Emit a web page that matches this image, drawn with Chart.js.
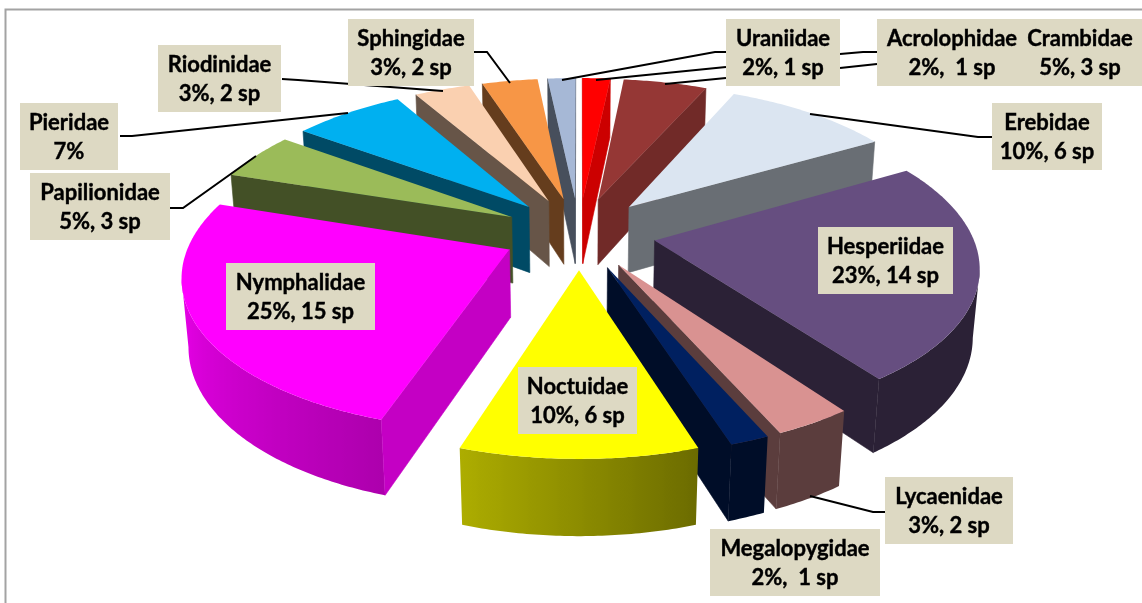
<!DOCTYPE html>
<html>
<head>
<meta charset="utf-8">
<title>Butterfly and moth families</title>
<script src="https://cdn.jsdelivr.net/npm/chart.js@4"></script>
<style>
    html, body { margin: 0; padding: 0; background: #fff; }
    canvas { display: block; }
</style>
</head>
<body>
<canvas id="pieChart" width="1142" height="603"></canvas>
<script>
// Chart data, clockwise from 12 o'clock
const families = ['Uraniidae', 'Crambidae', 'Erebidae', 'Hesperiidae', 'Lycaenidae', 'Megalopygidae',
    'Noctuidae', 'Nymphalidae', 'Papilionidae', 'Pieridae', 'Riodinidae', 'Sphingidae', 'Acrolophidae'];
const species = [1, 3, 6, 14, 2, 1, 6, 15, 3, 4, 2, 2, 1];
const shares = ['2%, 1 sp', '5%, 3 sp', '10%, 6 sp', '23%, 14 sp', '3%, 2 sp', '2%,  1 sp',
    '10%, 6 sp', '25%, 15 sp', '5%, 3 sp', '7%', '3%, 2 sp', '3%, 2 sp', '2%,  1 sp'];

// Slice styling: top face colour, and how dark the straight walls are
const topColors = ['#FF0000', '#953735', '#DBE5F1', '#664E80', '#D99291', '#002060',
    '#FFFF00', '#FF00FF', '#9BBB59', '#00B0F0', '#FAD0B0', '#F79646', '#A6B8D6'];
const wallShades = [0.8, 0.76, 0.48, 0.42, 0.42, 0.42, 0.7, 0.77, 0.43, 0.42, 0.41, 0.41, 0.43];

// Label boxes [left, top, right, bottom], same order as families
const labelBoxes = [
    [726, 19, 840, 86], [1018, 19, 1142, 86], [992, 103, 1102, 170], [818, 227, 953, 294],
    [885, 477, 1013, 544], [710, 529, 880, 596], [518, 367, 637, 434], [226, 263, 375, 330],
    [30, 173, 170, 240], [20, 103, 118, 170], [158, 45, 281, 112], [348, 19, 474, 86], [877, 19, 1027, 86]
];

// Leader lines from the boxes to the slices
const leaderLines = [
    [[474, 52], [487, 52], [510, 83]],
    [[282, 79], [298, 80], [443, 91]],
    [[120, 136], [132, 136], [348, 113]],
    [[170, 208], [183, 208], [256, 156]],
    [[726, 52], [715, 52], [562, 80]],
    [[726, 67], [596, 80]],
    [[726, 78], [665, 84]],
    [[877, 52], [863, 52], [840, 54]],
    [[877, 64], [840, 68]],
    [[992, 137], [978, 137], [810, 114]],
    [[885, 512], [873, 512], [810, 496]]
];

// Perspective used to tilt the pie
const view = { cx: 579, cy: 233, sx: 317, sy: 148, depth: 68, persp: 0.15, sink: 0.017, explode: 0.242 };

function project(u, v, z) {
    const w = 1 - view.persp * v + view.sink * z;
    return [view.cx + view.sx * u / w, view.cy + (view.sy * v + view.depth * z) / w];
}

function shadeColor(hex, f) {
    const n = parseInt(hex.slice(1), 16);
    const r = Math.round(((n >> 16) & 255) * f);
    const g = Math.round(((n >> 8) & 255) * f);
    const b = Math.round((n & 255) * f);
    return 'rgb(' + r + ',' + g + ',' + b + ')';
}

function fillPoly(ctx, pts, color, edge) {
    ctx.beginPath();
    pts.forEach((p, i) => i ? ctx.lineTo(p[0], p[1]) : ctx.moveTo(p[0], p[1]));
    ctx.closePath();
    ctx.fillStyle = color;
    ctx.fill();
    if (edge) {
        ctx.strokeStyle = color;
        ctx.lineWidth = 0.6;
        ctx.stroke();
    }
}

function signedArea(pts) {
    let a = 0;
    pts.forEach((p, i) => {
        const q = pts[(i + 1) % pts.length];
        a += p[0] * q[1] - q[0] * p[1];
    });
    return a;
}

// Outer wall gets lighter from the front right round to the left
function outerShade(theta) {
    const deg = theta * 180 / Math.PI;
    if (deg < 198) return Math.max(0.42, 0.42 + (deg - 162) * 0.0072);
    return Math.min(0.93, 0.68 + (deg - 198) * 0.004);
}

function drawOuterWall(ctx, at, a0, a1, steps, color) {
    const ts = [];
    for (let s = 0; s <= steps; s++) {
        const t = a0 + (a1 - a0) * s / steps;
        if (Math.cos(t) <= -0.18) ts.push(t); // with this perspective the left and right extremes are here
    }
    if (ts.length < 2) return;

    const topEdge = ts.map(t => at(t, 1, 0));
    const bottomEdge = ts.map(t => at(t, 1, 1)).reverse();
    const xs = topEdge.map(p => p[0]);
    const xMin = Math.min(...xs);
    const xMax = Math.max(...xs);
    const gradient = ctx.createLinearGradient(xMin, 0, xMax, 0);
    ts.forEach((t, k) => {
        gradient.addColorStop((xs[k] - xMin) / (xMax - xMin), shadeColor(color, outerShade(t)));
    });
    fillPoly(ctx, topEdge.concat(bottomEdge), gradient);
}

function drawSlice(ctx, arc, i) {
    const a0 = arc.startAngle + Math.PI / 2;
    const a1 = arc.endAngle + Math.PI / 2;
    const mid = (a0 + a1) / 2;
    const eu = view.explode * Math.sin(mid);
    const ev = -view.explode * Math.cos(mid);
    const at = (t, r, z) => project(eu + r * Math.sin(t), ev - r * Math.cos(t), z);
    const wall = shadeColor(topColors[i], wallShades[i]);
    const steps = Math.max(2, Math.ceil((a1 - a0) * 90));

    drawOuterWall(ctx, at, a0, a1, steps, topColors[i]);

    // straight walls, only those facing the viewer
    const startWall = [at(a0, 0, 0), at(a0, 1, 0), at(a0, 1, 1), at(a0, 0, 1)];
    const endWall = [at(a1, 1, 0), at(a1, 0, 0), at(a1, 0, 1), at(a1, 1, 1)];
    [startWall, endWall].forEach(q => {
        if (signedArea(q) < 0) fillPoly(ctx, q, wall, true);
    });

    // top face
    const face = [at(a0, 0, 0)];
    for (let s = 0; s <= steps; s++) {
        face.push(at(a0 + (a1 - a0) * s / steps, 1, 0));
    }
    fillPoly(ctx, face, topColors[i]);
}

const pie3d = {
    id: 'pie3d',
    beforeDraw(chart) {
        // frame of the original picture, only left and top are in view
        const ctx = chart.ctx;
        ctx.save();
        ctx.strokeStyle = '#A3A3A3';
        ctx.lineWidth = 2;
        ctx.beginPath();
        ctx.moveTo(5.5, 603);
        ctx.lineTo(5.5, 9.5);
        ctx.lineTo(1142, 9.5);
        ctx.stroke();
        ctx.restore();
    },
    beforeDatasetDraw(chart, args) {
        const ctx = chart.ctx;
        const arcs = args.meta.data;
        const order = arcs.map((a, i) => i).sort((p, q) => {
            const mp = (arcs[p].startAngle + arcs[p].endAngle) / 2 + Math.PI / 2;
            const mq = (arcs[q].startAngle + arcs[q].endAngle) / 2 + Math.PI / 2;
            return Math.cos(mq) - Math.cos(mp);
        });
        ctx.save();
        order.forEach(i => drawSlice(ctx, arcs[i], i));
        ctx.restore();
        return false; // replaces the flat arcs
    },
    afterDraw(chart) {
        const ctx = chart.ctx;
        ctx.save();
        ctx.strokeStyle = '#000';
        ctx.lineWidth = 2;
        leaderLines.forEach(line => {
            ctx.beginPath();
            line.forEach((p, i) => i ? ctx.lineTo(p[0], p[1]) : ctx.moveTo(p[0], p[1]));
            ctx.stroke();
        });
        ctx.fillStyle = '#DDD9C3';
        labelBoxes.forEach(b => ctx.fillRect(b[0], b[1], b[2] - b[0], b[3] - b[1]));

        ctx.textAlign = 'center';
        ctx.font = 'bold 22px Lato';
        ctx.fillStyle = '#000';
        ctx.lineWidth = 0.4;
        labelBoxes.forEach((b, i) => {
            const mid = (b[0] + b[2]) / 2;
            ctx.fillText(families[i], mid, b[1] + 27);
            ctx.strokeText(families[i], mid, b[1] + 27);
            ctx.fillText(shares[i], mid, b[1] + 56);
            ctx.strokeText(shares[i], mid, b[1] + 56);
        });
        ctx.restore();
    }
};

new Chart(document.getElementById('pieChart'), {
    type: 'pie',
    data: {
        labels: families,
        datasets: [{ data: species, backgroundColor: topColors, borderWidth: 0 }]
    },
    options: {
        responsive: false,
        animation: false,
        plugins: { legend: { display: false }, tooltip: { enabled: false } }
    },
    plugins: [pie3d]
});
</script>
</body>
</html>
